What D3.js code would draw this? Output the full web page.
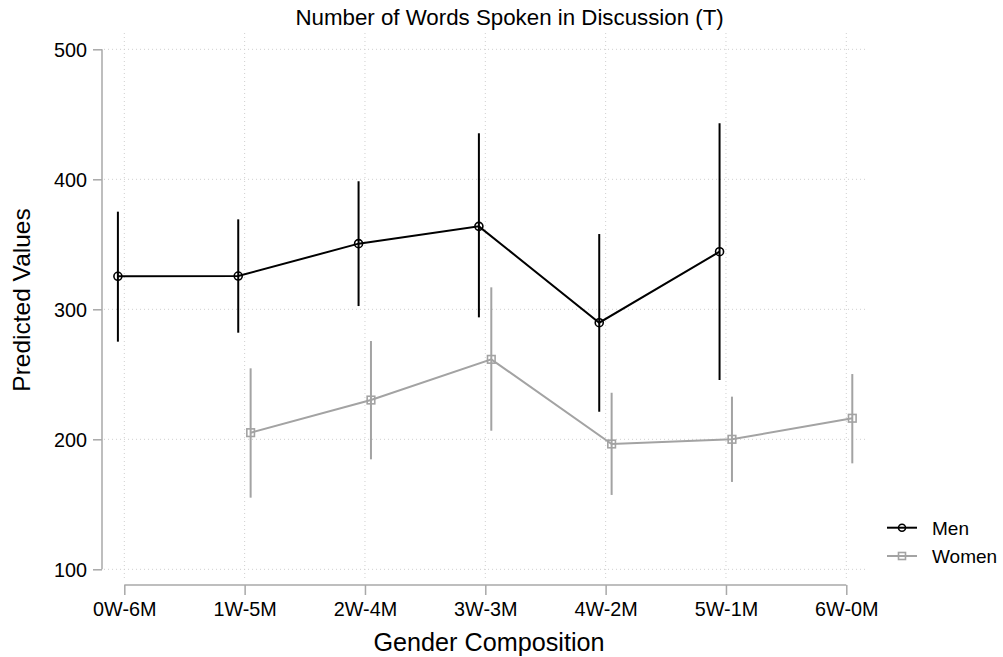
<!DOCTYPE html>
<html>
<head>
<meta charset="utf-8">
<script src="https://cdn.jsdelivr.net/npm/d3@7"></script>
<style>
  html, body { margin: 0; padding: 0; background: #fff; }
  svg { display: block; font-family: "Liberation Sans", Arial, Helvetica, sans-serif; }
</style>
</head>
<body>
<svg id="chart" width="1003" height="657"></svg>
<script>
// Group compositions on the x axis
const categories = ["0W-6M", "1W-5M", "2W-4M", "3W-3M", "4W-2M", "5W-1M", "6W-0M"];

// Predicted number of words spoken, with 95% confidence bounds
const menMean  = [325.4, 325.6, 350.5, 363.8, 289.7, 344.3, null];
const menLow   = [275.1, 282.0, 302.5, 293.8, 221.2, 245.6, null];
const menHigh  = [375.1, 369.2, 398.5, 435.4, 357.9, 443.1, null];

const womenMean = [null, 205.1, 230.2, 261.5, 196.4, 200.0, 216.2];
const womenLow  = [null, 155.1, 184.6, 206.6, 157.2, 167.2, 181.5];
const womenHigh = [null, 254.6, 275.6, 316.9, 235.8, 232.8, 250.2];

const yTicks = [100, 200, 300, 400, 500];

const seriesNames = ["Men", "Women"];

const svg = d3.select("#chart");
const FONT = 19.8;
const menColor = "#000000";
const womenColor = "#a3a3a3";
const axisColor = "#a8a8a8";
const gridColor = "#cfcfcf";

const x = d3.scalePoint().domain(categories).range([124.3, 846.3]);
const y = d3.scaleLinear().domain([100, 500]).range([569.3, 49.3]);

const plotLeft = 102, plotRight = 868, plotTop = 33, plotBottom = 580;

// Dotted grid
const grid = svg.append("g");
grid.selectAll("line.h").data(yTicks).join("line")
  .attr("x1", plotLeft + 2).attr("x2", plotRight)
  .attr("y1", d => y(d)).attr("y2", d => y(d))
  .attr("stroke", gridColor).attr("stroke-width", 1).attr("stroke-dasharray", "1,3");
grid.selectAll("line.v").data(categories).join("line")
  .attr("x1", d => x(d)).attr("x2", d => x(d))
  .attr("y1", plotTop).attr("y2", plotBottom)
  .attr("stroke", gridColor).attr("stroke-width", 1).attr("stroke-dasharray", "1,3");

// Y axis
const yAxis = svg.append("g").attr("transform", `translate(${plotLeft},0)`)
  .call(d3.axisLeft(y).tickValues(yTicks).tickSize(9).tickPadding(6).tickFormat(d3.format("d")));
yAxis.select(".domain").attr("stroke", axisColor).attr("stroke-width", 1.5)
  .attr("d", `M0,${y(500)}V${y(100)}`);
yAxis.selectAll(".tick line").attr("stroke", axisColor).attr("stroke-width", 1.5);
yAxis.selectAll(".tick text").attr("fill", "#000").style("font-size", FONT + "px")
  .attr("dy", "0.36em");

// X axis
const xAxis = svg.append("g").attr("transform", `translate(0,585)`)
  .call(d3.axisBottom(x).tickSize(10).tickPadding(6));
xAxis.select(".domain").attr("stroke", axisColor).attr("stroke-width", 1.5)
  .attr("d", `M${x(categories[0])},0H${x(categories[categories.length - 1])}`);
xAxis.selectAll(".tick text").attr("fill", "#000").style("font-size", FONT + "px")
  .attr("dy", "0.76em");
xAxis.selectAll(".tick line").attr("stroke", axisColor).attr("stroke-width", 1.5);

// Titles
svg.append("text").attr("x", 509.6).attr("y", 24.5).attr("text-anchor", "middle")
  .style("font-size", "22.3px").text("Number of Words Spoken in Discussion (T)");
svg.append("text").attr("x", 489).attr("y", 650.5).attr("text-anchor", "middle")
  .style("font-size", "25.2px").text("Gender Composition");
svg.append("text").attr("transform", `translate(30,300) rotate(-90)`).attr("text-anchor", "middle")
  .style("font-size", "24.5px").text("Predicted Values");

function drawSeries(mean, low, high, color, offset, marker) {
  const pts = categories.map((c, i) => ({ c, m: mean[i], lo: low[i], hi: high[i] }))
    .filter(d => d.m != null);
  const g = svg.append("g");
  g.selectAll("line.ci").data(pts).join("line")
    .attr("x1", d => x(d.c) + offset).attr("x2", d => x(d.c) + offset)
    .attr("y1", d => y(d.lo)).attr("y2", d => y(d.hi))
    .attr("stroke", color).attr("stroke-width", 2);
  g.append("path").datum(pts)
    .attr("d", d3.line().x(d => x(d.c) + offset).y(d => y(d.m)))
    .attr("fill", "none").attr("stroke", color).attr("stroke-width", 2);
  if (marker === "circle") {
    g.selectAll("circle").data(pts).join("circle")
      .attr("cx", d => x(d.c) + offset).attr("cy", d => y(d.m)).attr("r", 4)
      .attr("fill", "none").attr("stroke", color).attr("stroke-width", 1.6);
  } else {
    g.selectAll("rect").data(pts).join("rect")
      .attr("x", d => x(d.c) + offset - 3.8).attr("y", d => y(d.m) - 3.8)
      .attr("width", 7.6).attr("height", 7.6)
      .attr("fill", "none").attr("stroke", color).attr("stroke-width", 1.6);
  }
}

drawSeries(menMean, menLow, menHigh, menColor, -6.4, "circle");
drawSeries(womenMean, womenLow, womenHigh, womenColor, 6, "square");

// Legend
const legend = svg.append("g");
const legendRows = [
  { name: seriesNames[0], color: menColor, marker: "circle", y: 527.7 },
  { name: seriesNames[1], color: womenColor, marker: "square", y: 556 }
];
legendRows.forEach(r => {
  legend.append("line").attr("x1", 887).attr("x2", 917).attr("y1", r.y).attr("y2", r.y)
    .attr("stroke", r.color).attr("stroke-width", 2);
  if (r.marker === "circle") {
    legend.append("circle").attr("cx", 902).attr("cy", r.y).attr("r", 3.5)
      .attr("fill", "none").attr("stroke", r.color).attr("stroke-width", 1.6);
  } else {
    legend.append("rect").attr("x", 902 - 3.5).attr("y", r.y - 3.5).attr("width", 7).attr("height", 7)
      .attr("fill", "none").attr("stroke", r.color).attr("stroke-width", 1.6);
  }
  legend.append("text").attr("x", 932).attr("y", r.y).attr("dy", "0.36em")
    .style("font-size", "19px").text(r.name);
});
</script>
</body>
</html>
